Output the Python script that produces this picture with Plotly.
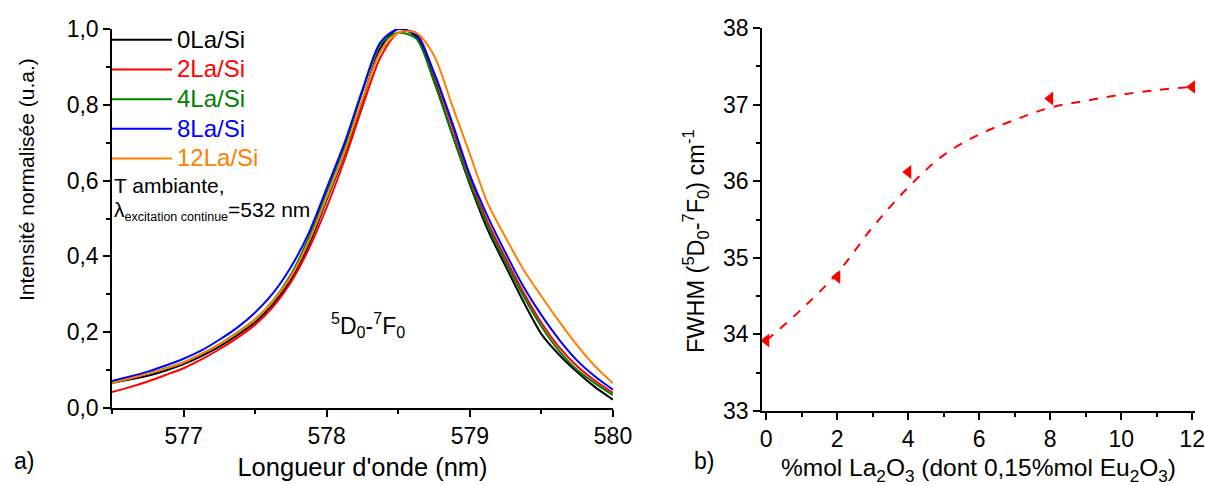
import plotly.graph_objects as go

# ---------------- data ----------------
wavelength = [576.5, 576.625, 576.75, 576.875, 577.0, 577.125, 577.25, 577.375, 577.5,
              577.625, 577.75, 577.875, 578.0, 578.125, 578.25, 578.375, 578.5, 578.625,
              578.75, 578.875, 579.0, 579.125, 579.25, 579.375, 579.5, 579.625, 579.75,
              579.875, 580.0]

i_0la = [0.066, 0.075, 0.085, 0.099, 0.116, 0.137, 0.162, 0.192, 0.226, 0.274, 0.338, 0.430,
         0.550, 0.670, 0.810, 0.950, 1.000, 0.980, 0.865, 0.725, 0.590, 0.470, 0.374, 0.280,
         0.195, 0.140, 0.095, 0.055, 0.022]
i_2la = [0.042, 0.055, 0.070, 0.087, 0.105, 0.128, 0.155, 0.185, 0.220, 0.267, 0.332, 0.420,
         0.530, 0.655, 0.795, 0.925, 0.990, 0.990, 0.880, 0.745, 0.605, 0.490, 0.395, 0.305,
         0.225, 0.160, 0.110, 0.072, 0.040]
i_4la = [0.068, 0.079, 0.090, 0.105, 0.120, 0.143, 0.168, 0.199, 0.234, 0.283, 0.352, 0.450,
         0.570, 0.690, 0.835, 0.960, 0.990, 0.975, 0.860, 0.725, 0.595, 0.480, 0.385, 0.295,
         0.215, 0.150, 0.100, 0.065, 0.034]
i_8la = [0.071, 0.083, 0.096, 0.112, 0.130, 0.152, 0.180, 0.212, 0.252, 0.303, 0.372, 0.462,
         0.580, 0.700, 0.840, 0.965, 1.000, 0.985, 0.885, 0.755, 0.615, 0.505, 0.409, 0.320,
         0.245, 0.180, 0.125, 0.083, 0.048]
i_12la = [0.066, 0.078, 0.090, 0.104, 0.120, 0.143, 0.168, 0.198, 0.234, 0.282, 0.347, 0.440,
          0.555, 0.675, 0.815, 0.940, 0.990, 0.990, 0.930, 0.800, 0.670, 0.540, 0.450, 0.365,
          0.295, 0.228, 0.165, 0.110, 0.065]

series_names = ["0La/Si", "2La/Si", "4La/Si", "8La/Si", "12La/Si"]
series_colors = ["#000000", "#ff0000", "#008000", "#0000ff", "#ff8000"]

la_pct = [0, 2, 4, 8, 12]
fwhm = [33.92, 34.75, 36.12, 37.08, 37.23]

fit_x = [0, 1, 2, 3, 4, 5, 6, 7, 8, 9, 10, 11, 12]
fit_y = [33.92, 34.33, 34.80, 35.40, 35.92, 36.34, 36.61, 36.80, 36.96, 37.05, 37.13, 37.19, 37.23]

left_xticks = [577, 578, 579, 580]
left_yticks = [0.0, 0.2, 0.4, 0.6, 0.8, 1.0]
right_xticks = [0, 2, 4, 6, 8, 10, 12]
right_yticks = [33, 34, 35, 36, 37, 38]

# ---------------- figure ----------------
FONT = "Liberation Sans, Arial, sans-serif"
W, H = 1205, 486
fig = go.Figure()

for name, col, ys in zip(series_names, series_colors, [i_0la, i_2la, i_4la, i_8la, i_12la]):
    fig.add_trace(go.Scatter(
        x=wavelength, y=ys, mode="lines", line=dict(color=col, width=2, shape="spline", smoothing=0.8),
        name=f"<span style='color:{col};font-size:24px'>{name}</span>", xaxis="x", yaxis="y"))

fig.add_trace(go.Scatter(
    x=fit_x, y=fit_y, mode="lines", line=dict(color="#ff0000", width=2, dash="dash", shape="spline"),
    showlegend=False, xaxis="x2", yaxis="y2"))
fig.add_trace(go.Scatter(
    x=la_pct, y=fwhm, mode="markers",
    marker=dict(symbol="triangle-left", color="#ff0000", size=12, line=dict(width=0)),
    showlegend=False, xaxis="x2", yaxis="y2"))

minor_style = dict(ticks="outside", ticklen=4, tickwidth=1.5, tickcolor="black")
axis_common = dict(
    showline=True, linecolor="black", linewidth=1.5, showgrid=False, zeroline=False,
    ticks="outside", ticklen=7, tickwidth=1.5, tickcolor="black",
    tickfont=dict(family=FONT, size=23, color="black"), automargin=False, mirror=False,
)

fig.update_layout(
    width=W, height=H,
    margin=dict(l=0, r=0, t=0, b=0),
    paper_bgcolor="white", plot_bgcolor="white",
    separators=", ",
    font=dict(family=FONT, size=20, color="black"),
    xaxis=dict(axis_common, domain=[112 / W, 613 / W], range=[576.5, 580], tickvals=left_xticks,
               minor=dict(minor_style, dtick=0.5, tick0=576.5),
               title=dict(text="Longueur d'onde (nm)", font=dict(family=FONT, size=25.5), standoff=10),
               anchor="y"),
    yaxis=dict(axis_common, domain=[1 - 408 / H, 1 - 29 / H], range=[0, 1.0], tickvals=left_yticks,
               tickformat=".1f", minor=dict(minor_style, dtick=0.1), anchor="x"),
    xaxis2=dict(axis_common, domain=[762 / W, 1195 / W], range=[-0.12, 12.08], tickvals=right_xticks,
                minor=dict(minor_style, dtick=1, tick0=0),
                title=dict(text="%mol La<sub>2</sub>O<sub>3</sub> (dont 0,15%mol Eu<sub>2</sub>O<sub>3</sub>)",
                           font=dict(family=FONT, size=24.5), standoff=8),
                anchor="y2"),
    yaxis2=dict(axis_common, domain=[1 - 411 / H, 1 - 28 / H], range=[33, 38], tickvals=right_yticks,
                minor=dict(minor_style, dtick=0.5), anchor="x2"),
    legend=dict(x=107 / W, y=1 - 20 / H, xanchor="left", yanchor="top", bgcolor="rgba(0,0,0,0)",
                font=dict(family=FONT, size=20.5), itemwidth=60, tracegroupgap=0),
)

# annotations positioned in pixels, converted to paper coordinates
ann_specs = [
    ("T ambiante,", 113, 185, "left", 21, 0),
    ("λ<sub><span style='font-size:12.5px'>excitation continue</span></sub>=532 nm", 113, 211, "left", 21, 0),
    ("<sup>5</sup>D<sub>0</sub>-<sup>7</sup>F<sub>0</sub>", 368, 325, "center", 23, 0),
    ("a)", 24, 461, "center", 23, 0),
    ("b)", 704, 461, "center", 23, 0),
    ("Intensité normalisée (u.a.)", 26, 180, "center", 21, -90),
    ("FWHM (<sup>5</sup>D<sub>0</sub>-<sup>7</sup>F<sub>0</sub>) cm<sup>-1</sup>", 695, 241, "center", 23.5, -90),
]
fig.update_layout(annotations=[
    dict(text=t, x=px / W, y=1 - py / H, xref="paper", yref="paper", xanchor=anc, yanchor="middle",
         textangle=ang, showarrow=False, borderpad=0, font=dict(family=FONT, size=fs, color="black"))
    for t, px, py, anc, fs, ang in ann_specs
])

fig.write_html("out.html", config={"displayModeBar": False},
               post_script="document.body.style.margin='0';")
